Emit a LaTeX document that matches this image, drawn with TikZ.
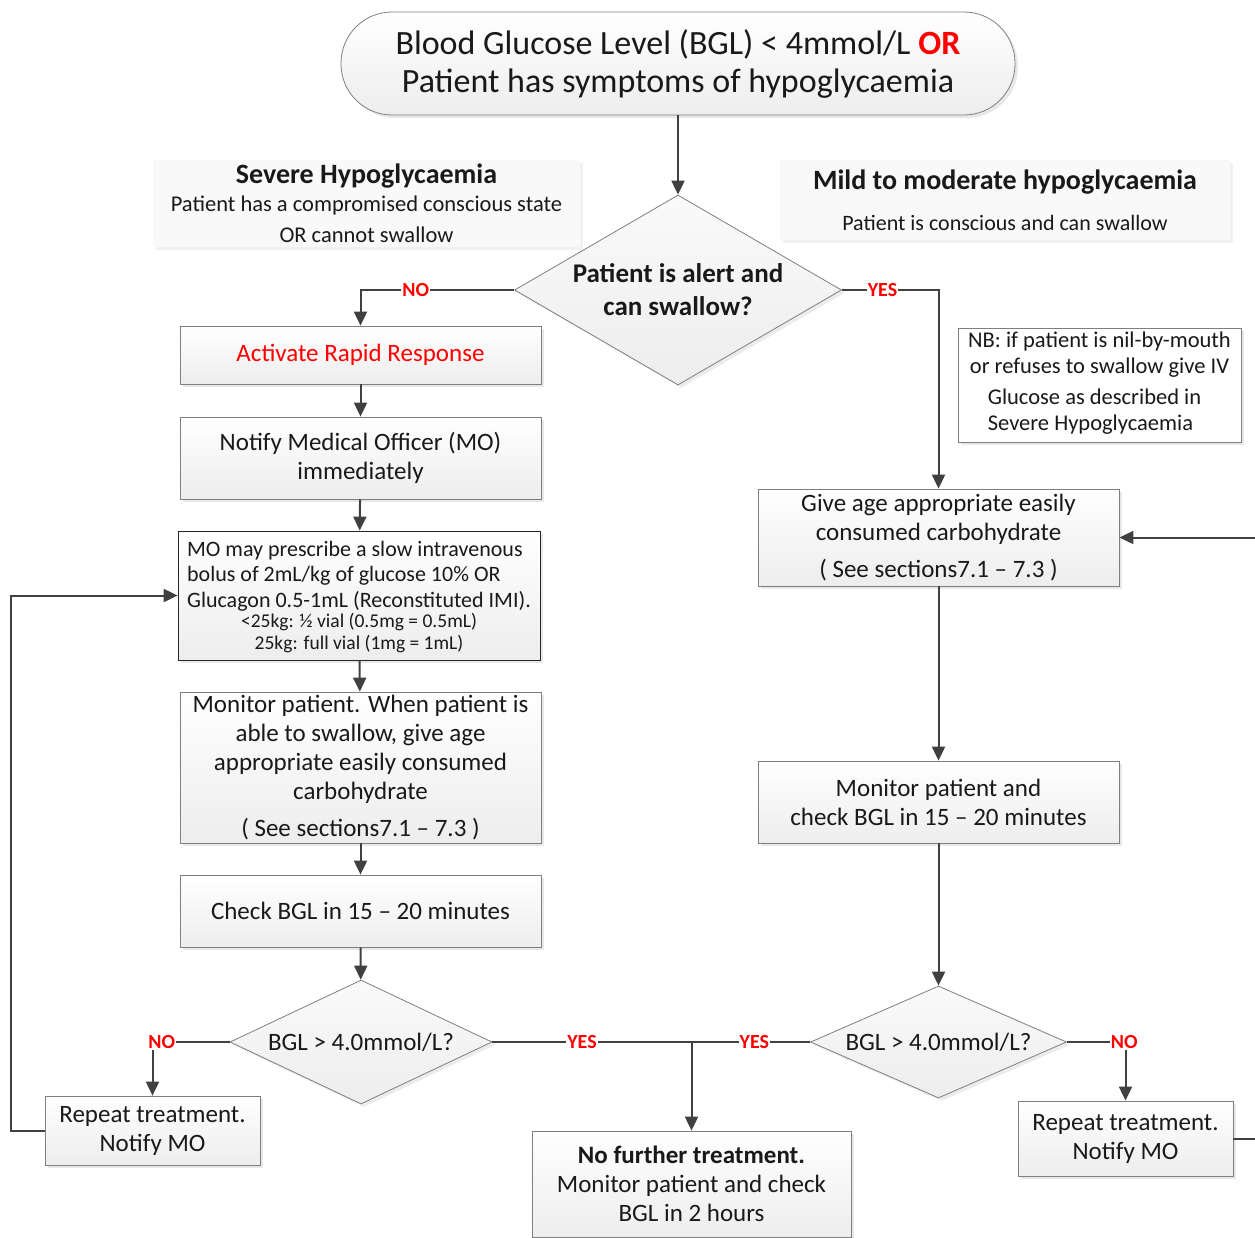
\documentclass[tikz,border=0pt]{standalone}
\usepackage{fontspec}
\setmainfont{Carlito}
\usetikzlibrary{arrows.meta, positioning, shapes.geometric, shadows}
\definecolor{linegray}{HTML}{404040}
\definecolor{boxline}{HTML}{7F7F7F}
\definecolor{alertred}{HTML}{FF0000}

\begin{document}
\begin{tikzpicture}[x=1pt, y=-1pt,
        proc/.style={rectangle, draw=boxline, thick, top color=white, bottom color=gray!14, drop shadow={shadow xshift=3pt, shadow yshift=-3pt, fill=gray!35}, align=center, text=black!90, inner sep=3pt, minimum width=361pt, font=\fontsize{25}{29}\selectfont},
        decision/.style={diamond, draw=boxline, thick, top color=gray!4, bottom color=gray!14, drop shadow={shadow xshift=3pt, shadow yshift=-3pt, fill=gray!30}, inner sep=0pt, align=center, text=black!90, font=\fontsize{25}{29}\selectfont},
        heading/.style={rectangle, fill=gray!5, drop shadow={shadow xshift=3pt, shadow yshift=-3pt, fill=gray!22}, align=center, text=black!90, font=\fontsize{22.5}{28}\selectfont},
        yn_label/.style={font=\fontsize{20}{22}\selectfont\bfseries, text=alertred, fill=white, inner sep=1pt},
        flow/.style={draw=linegray, line width=2pt, -{Triangle[length=14pt, width=13pt]}},
        plain_line/.style={draw=linegray, line width=2pt},
        every edge/.style={draw=linegray, line width=2pt, -{Triangle[length=14pt, width=13pt]}}
    ]
        \useasboundingbox (0,0) rectangle (1255,1237);

        % Entrada
        \node[proc, rounded corners=51pt, minimum width=674pt, minimum height=103pt, font=\fontsize{34}{38}\selectfont] (start) at (678,63.5) {Blood Glucose Level (BGL) < 4mmol/L {\color{alertred}\bfseries OR}\\Patient has symptoms of hypoglycaemia};
        \node[decision, minimum width=327pt, minimum height=190pt, aspect=1.72, font=\fontsize{27}{33}\selectfont\bfseries] (alert) at (678,290) {Patient is alert and\\can swallow?};

        % Encabezados
        \node[heading, minimum width=427pt, minimum height=87pt] (severe) at (366.5,203) {{\fontsize{28}{28}\selectfont\bfseries Severe Hypoglycaemia}\\Patient has a compromised conscious state\\[3pt]OR cannot swallow};
        \node[heading, minimum width=450pt, minimum height=80pt, font=\fontsize{22}{28}\selectfont] (mild) at (1005,200) {{\fontsize{28}{28}\selectfont\bfseries Mild to moderate hypoglycaemia}\\[13pt]Patient is conscious and can swallow};
        \node[proc, top color=white, bottom color=white, inner sep=1pt, minimum width=283pt, minimum height=114pt, font=\fontsize{22.5}{26}\selectfont] (nb) at (1099.5,385) {NB: if patient is nil-by-mouth\\or refuses to swallow give IV\\[8pt]\hspace*{-10pt}\begin{tabular}{@{}l@{}}Glucose as described in\\Severe Hypoglycaemia\end{tabular}};

        % Rama severa
        \node[proc, minimum height=58pt, text=alertred] (rapid) at (360.5,355) {Activate Rapid Response};
        \node[proc, minimum height=82pt] (notify) at (360.5,458) {Notify Medical Officer (MO)\\immediately};
        \node[proc, draw=black!85, minimum width=362pt, minimum height=129pt, font=\fontsize{22}{25.5}\selectfont] (prescribe) at (359,595.5) {\begin{tabular}{@{}l@{}}MO may prescribe a slow intravenous\\bolus of 2mL/kg of glucose 10\% OR\\Glucagon 0.5-1mL (Reconstituted IMI).\end{tabular}\\[-2pt]{\fontsize{19.5}{21}\selectfont <25kg: ½ vial (0.5mg = 0.5mL)}\\[-4pt]{\fontsize{19.5}{21}\selectfont 25kg: full vial (1mg = 1mL)}};
        \node[proc, minimum height=151pt] (monitor) at (360.5,767.5) {Monitor patient. When patient is\\able to swallow, give age\\appropriate easily consumed\\carbohydrate\\[8pt]( See sections7.1 -- 7.3 )};
        \node[proc, minimum height=72pt] (check) at (360.5,911) {Check BGL in 15 -- 20 minutes};
        \node[decision, minimum width=262pt, minimum height=124pt, aspect=2.1] (bglL) at (361,1042) {BGL > 4.0mmol/L?};
        \node[proc, minimum width=215pt, minimum height=69pt] (repeatL) at (152.5,1130.5) {Repeat treatment.\\Notify MO};

        % Rama leve
        \node[proc, minimum height=97pt] (give) at (938.5,537.5) {Give age appropriate easily\\consumed carbohydrate\\[8pt]( See sections7.1 -- 7.3 )};
        \node[proc, minimum height=82pt] (monitorR) at (938.5,802) {Monitor patient and\\check BGL in 15 -- 20 minutes};
        \node[decision, minimum width=256pt, minimum height=112pt, aspect=2.3] (bglR) at (938.5,1042) {BGL > 4.0mmol/L?};
        \node[proc, minimum width=215pt, minimum height=75pt] (repeatR) at (1125.5,1138.5) {Repeat treatment.\\Notify MO};

        % Salida
        \node[proc, minimum width=319pt, minimum height=106pt] (done) at (691.5,1184) {\textbf{No further treatment.}\\Monitor patient and check\\BGL in 2 hours};
        \coordinate (join) at (done.north |- bglL.east);

        % Conectores
        \path (start) edge (alert);
        \draw[flow] (alert.west) -| node[yn_label, pos=0.32] {NO} (rapid.north);
        \draw[flow] (alert.east) -| node[yn_label, pos=0.21] {YES} (give.north);
        \path (rapid) edge (notify);
        \path (notify) edge (prescribe);
        \path (prescribe) edge (monitor);
        \path (monitor) edge (check);
        \path (check) edge (bglL);
        \draw[flow] (bglL.west) -| node[yn_label, pos=0.44] {NO} (repeatL.north);
        \draw[flow] (repeatL.west) -- ++(-34,0) |- (prescribe.west);
        \draw[plain_line] (bglL.east) -- node[yn_label, pos=0.45] {YES} (join);
        \draw[plain_line] (bglR.west) -- node[yn_label, pos=0.47] {YES} (join);
        \path (join) edge (done);
        \path (give) edge (monitorR);
        \path (monitorR) edge (bglR);
        \draw[flow] (bglR.east) -| node[yn_label, pos=0.49] {NO} (repeatR.north);
        \draw[flow] (repeatR.east) -- ++(40,0) |- (give.east);
    \end{tikzpicture}
\end{document}
